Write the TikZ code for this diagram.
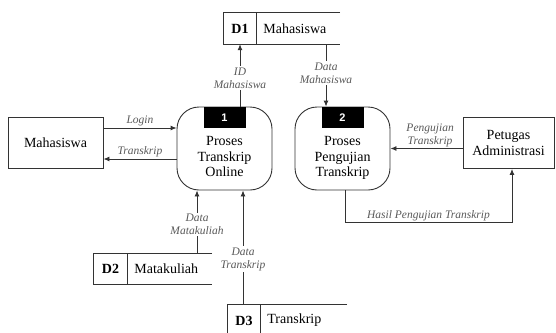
\documentclass[tikz,border=0pt]{standalone}
\usepackage{fontspec}
\setmainfont{Liberation Serif}
\newfontfamily\numfont{Liberation Sans}
\usetikzlibrary{arrows.meta, positioning}

\tikzset{
  proc/.style={draw=black!80, line width=0.9pt, rounded corners=22pt,
               minimum width=95, minimum height=83, inner sep=0pt},
  procnum/.style={fill=black, text=white, inner sep=0pt,
                  minimum width=42, minimum height=21,
                  font=\numfont\bfseries\fontsize{11}{11}\selectfont},
  entity/.style={draw=black!80, line width=0.9pt, minimum height=51, align=center},
  store/.style={minimum height=31, inner sep=0pt},
  storeid/.style={minimum width=32, minimum height=31, inner sep=0pt,
                  font=\bfseries\fontsize{14}{15}\selectfont},
  storename/.style={inner xsep=7pt, inner ysep=0pt},
  storeline/.style={draw=black!80, line width=0.9pt},
  flow/.style={draw=black!80, line width=0.9pt, -{Latex[length=6pt, width=5pt]}},
  flowlabel/.style={font=\fontsize{11.5}{13}\selectfont\itshape, text=black!65,
                    align=center, inner sep=1.5pt}
}

\begin{document}
\begin{tikzpicture}[x=1pt, y=-1pt]
\useasboundingbox (0,0) rectangle (556,332);
\clip (0,0) rectangle (556,332);

\begin{scope}[every node/.style={font=\fontsize{14}{15.5}\selectfont}]
  % processes
  \node[proc] (p1) at (224.5,148.5) {};
  \node[procnum, anchor=north] (p1num) at (p1.north) {1};
  \node[align=center, below=5pt of p1num] (p1txt) {Proses\\Transkrip\\Online};
  \node[proc] (p2) at (342.5,148.5) {};
  \node[procnum, anchor=north] (p2num) at (p2.north) {2};
  \node[align=center, below=5pt of p2num] (p2txt) {Proses\\Pengujian\\Transkrip};

  % entities
  \node[entity, minimum width=95] (mhs) at (55.5,142.5) {Mahasiswa};
  \node[entity, minimum width=91] (ptg) at (508.5,143) {Petugas\\Administrasi};

  % data stores
  \node[store, minimum width=116] (d1) at (282,28.5) {};
  \node[storeid, anchor=west] (d1id) at (d1.west) {D1};
  \node[storename, right=0pt of d1id] (d1nm) {Mahasiswa};
  \node[store, minimum width=118] (d2) at (153,269) {};
  \node[storeid, minimum width=33, anchor=west] (d2id) at (d2.west) {D2};
  \node[storename, right=0pt of d2id] (d2nm) {Matakuliah};
  \node[store, minimum width=119] (d3) at (287.5,320.5) {};
  \node[storeid, anchor=west] (d3id) at (d3.west) {D3};
  \node[storename, right=0pt of d3id] (d3nm) {Transkrip};
\end{scope}

\draw[storeline] (d1.north east) -- (d1.north west) -- (d1.south west) -- (d1.south east)
                 (d1id.north east) -- (d1id.south east);
\draw[storeline] (d2.north east) -- (d2.north west) -- (d2.south west) -- (d2.south east)
                 (d2id.north east) -- (d2id.south east);
\draw[storeline] (d3.north east) -- (d3.north west) -- (d3.south west) -- (d3.south east)
                 (d3id.north east) -- (d3id.south east);

% data flows
\begin{scope}[every node/.style={flowlabel}]
  \draw[flow] ([yshift=14.5pt]mhs.east) -- ([yshift=14.5pt]mhs.east -| p1.west)
    node[midway, above] {Login};
  \draw[flow] ([yshift=-16.5pt]mhs.east -| p1.west) -- ([yshift=-16.5pt]mhs.east)
    node[midway, above] {Transkrip};
  \draw[flow] ([xshift=15.5pt]p1.north) -- ([xshift=15.5pt]p1.north |- d1.south)
    node[pos=0.46, fill=white] {ID\\Mahasiswa};
  \draw[flow] ([xshift=-16.5pt]p2.north |- d1.south) -- ([xshift=-16.5pt]p2.north)
    node[pos=0.46, fill=white] {Data\\Mahasiswa};
  \draw[flow] (ptg.west |- p2.east) -- (p2.east)
    node[pos=0.45, above] {Pengujian\\Transkrip};
  \draw[flow] ([xshift=2.5pt]p2.south) -- ++(0,32) -| ([xshift=3.5pt]ptg.south)
    node[pos=0.25, above] {Hasil Pengujian Transkrip};
  \draw[flow] ([xshift=-27.5pt]p1.south |- d2.north) -- ([xshift=-27.5pt]p1.south)
    node[pos=0.46, fill=white] {Data\\Matakuliah};
  \draw[flow] ([xshift=18.5pt]p1.south |- d3.north) -- ([xshift=18.5pt]p1.south)
    node[pos=0.4, fill=white] {Data\\Transkrip};
\end{scope}

\end{tikzpicture}
\end{document}
